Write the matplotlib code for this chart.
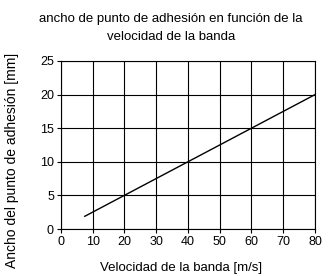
import numpy as np
import matplotlib.pyplot as plt

plt.rcParams['font.family'] = ['Liberation Sans', 'DejaVu Sans']

velocidad = [7.5, 80]
ancho = [1.9, 20]
xticks = [0, 10, 20, 30, 40, 50, 60, 70, 80]
yticks = [0, 5, 10, 15, 20, 25]

fig = plt.figure(figsize=(3.33, 2.76), dpi=100)
ax = fig.add_axes([0.183, 0.170, 0.763, 0.609])

ax.plot(velocidad, ancho, color='black', linewidth=1)

ax.set_xlim(0, 80)
ax.set_ylim(0, 25)
ax.set_xticks(xticks)
ax.set_yticks(yticks)
ax.grid(True, color='black', linewidth=0.8)
for s in ax.spines.values():
    s.set_linewidth(0.8)
ax.tick_params(labelsize=9, length=3, width=0.8, pad=2)

ax.set_xlabel("Velocidad de la banda [m/s]", fontsize=9.5, va='center')
ax.xaxis.set_label_coords(0.472, -0.232)
ax.set_ylabel("Ancho del punto de adhesión [mm]", fontsize=10, va='center')
ax.yaxis.set_label_coords(-0.193, 0.41)

fig.text(171 / 333, 1 - 28 / 276,
         "ancho de punto de adhesión en función de la\nvelocidad de la banda",
         fontsize=9.5, ha='center', va='center', linespacing=1.7)

fig.savefig("out.png", dpi=100)
